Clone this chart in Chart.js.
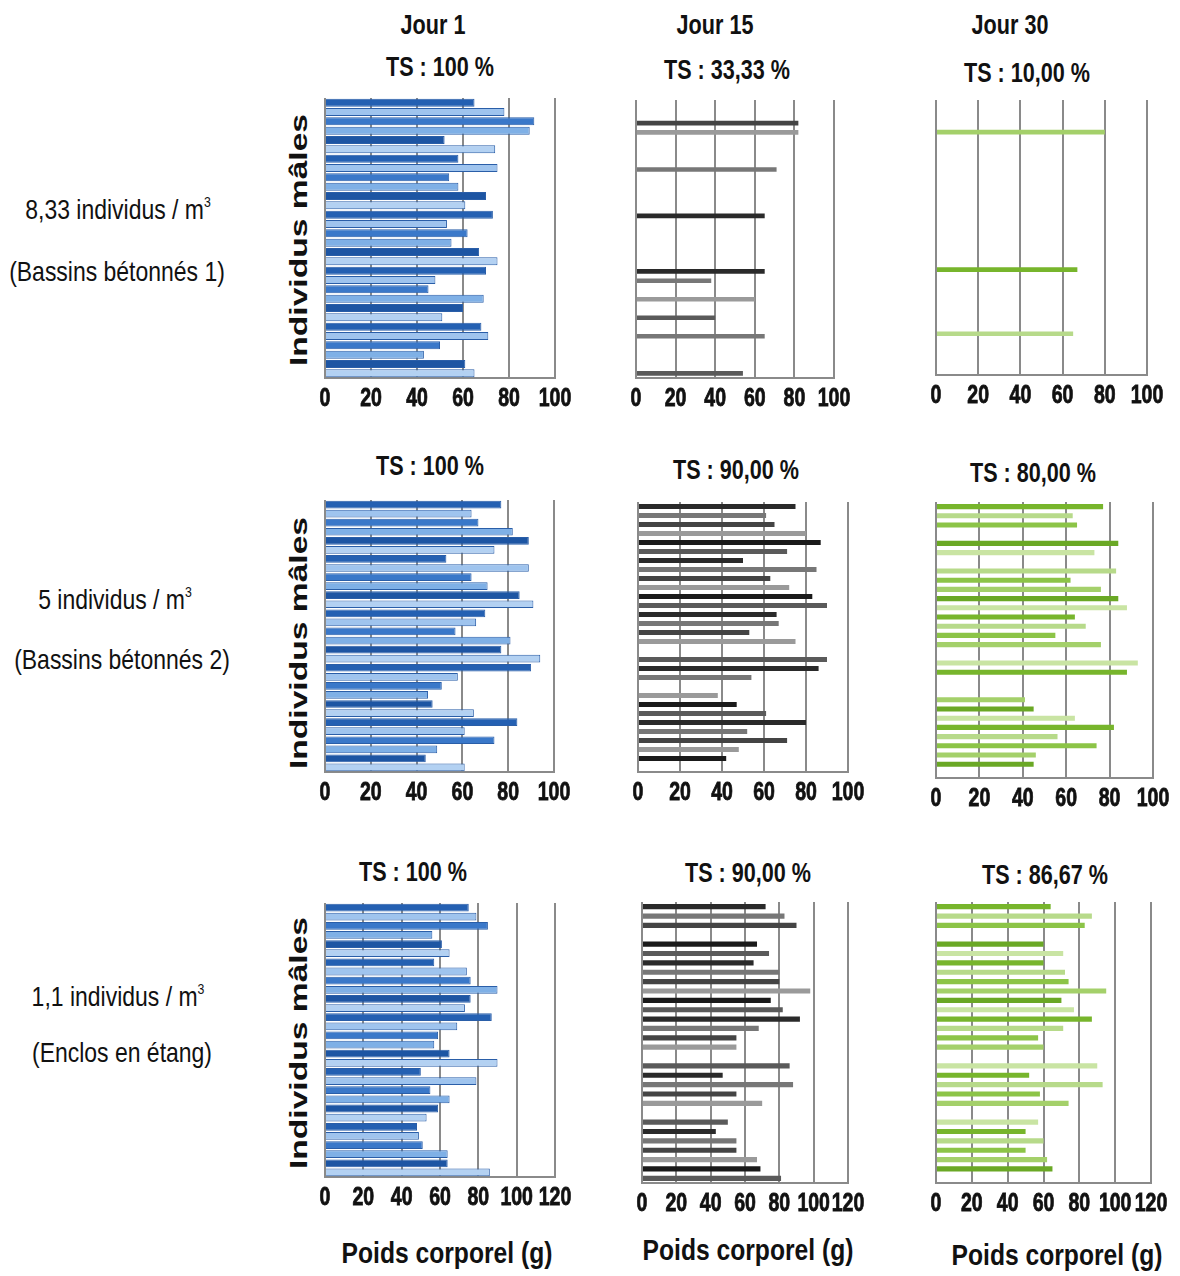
<!DOCTYPE html>
<html>
<head>
<meta charset="utf-8">
<script src="https://cdn.jsdelivr.net/npm/chart.js@4.4.1/dist/chart.umd.min.js"></script>
<style>
body { margin: 0; background: #fff; }
#fig { position: relative; width: 1180px; height: 1276px; overflow: hidden;
       font-family: "Liberation Sans", Arial, sans-serif; color: #111; }
.t { position: absolute; white-space: nowrap; }
.title { font-weight: bold; font-size: 27px; transform: translate(-50%, -50%) scaleX(0.8); }
.row { font-size: 28px; transform: translate(-50%, -50%) scaleX(0.82); }
.row sup { font-size: 15px; vertical-align: 12px; line-height: 0; }
.ylab { font-weight: bold; font-size: 24px;
        transform: translate(-50%, -50%) rotate(-90deg) scaleX(1.4); }
.xlab { font-weight: bold; font-size: 29px; transform: translate(-50%, -50%) scaleX(0.85); }
canvas { position: absolute; }
</style>
</head>
<body>
<div id="fig"></div>
<script>
// individus (30 mâles par traitement)
const individus = ["1","2","3","4","5","6","7","8","9","10","11","12","13","14","15",
                   "16","17","18","19","20","21","22","23","24","25","26","27","28","29","30"];

// Bassins bétonnés 1 (8,33 individus / m3)
const j1_bassin1  = [65,78,91,89,52,74,58,75,54,58,70,61,73,53,62,55,67,75,70,48,45,69,60,51,68,71,50,43,61,65];
const j15_bassin1 = [null,null,82,82,null,null,null,71,null,null,null,null,65,null,null,null,null,null,65,38,null,60,null,40,null,65,null,null,null,54];
const j30_bassin1 = [null,null,null,80,null,null,null,null,null,null,null,null,null,null,null,null,null,null,67,null,null,null,null,null,null,65,null,null,null,null];

// Bassins bétonnés 2 (5 individus / m3)
const j1_bassin2  = [77,64,67,82,89,74,53,89,64,71,85,91,70,66,57,81,77,94,90,58,51,45,47,65,84,61,74,49,44,61];
const j15_bassin2 = [75,61,65,80,87,71,50,85,63,72,83,90,66,67,53,75,null,90,86,54,null,38,47,61,80,52,71,48,42,null];
const j30_bassin2 = [77,63,65,null,84,73,null,83,62,76,84,88,64,69,55,76,null,93,88,null,null,41,45,64,82,56,74,46,45,null];

// Enclos en étang (1,1 individus / m3)
const j1_enclos  = [75,79,85,56,61,65,57,74,76,90,76,73,87,69,59,57,65,90,50,79,55,65,59,53,48,49,51,64,64,86];
const j15_enclos = [72,83,90,null,67,74,65,80,80,98,75,82,92,68,55,55,null,86,47,88,55,70,null,50,43,55,55,67,69,81];
const j30_enclos = [64,87,83,null,60,71,60,72,74,95,70,77,87,71,57,60,null,90,52,93,58,74,null,57,50,60,50,62,65,null];

const jours = ["Jour 1", "Jour 15", "Jour 30"];
const tauxSurvie = [
  ["TS : 100 %", "TS : 33,33 %", "TS : 10,00 %"],
  ["TS : 100 %", "TS : 90,00 %", "TS : 80,00 %"],
  ["TS : 100 %", "TS : 90,00 %", "TS : 86,67 %"]
];
const densites = ["8,33 individus / m<sup>3</sup>", "5 individus / m<sup>3</sup>", "1,1 individus / m<sup>3</sup>"];
const milieux = ["(Bassins bétonnés 1)", "(Bassins bétonnés 2)", "(Enclos en étang)"];
const axeMax = [100, 100, 120];

const fig = document.getElementById("fig");
function addText(cls, html, x, y) {
  const d = document.createElement("div");
  d.className = "t " + cls;
  d.innerHTML = html;
  d.style.left = x + "px";
  d.style.top = y + "px";
  fig.appendChild(d);
}

// textes
addText("title", jours[0], 433, 25);
addText("title", jours[1], 715, 25);
addText("title", jours[2], 1010, 25);
const tsPos = [[[440, 67], [727, 70], [1027, 73]], [[430, 466], [736, 470], [1033, 473]], [[413, 872], [748, 873], [1045, 875]]];
tsPos.forEach((r, i) => r.forEach((p, j) => addText("title", tauxSurvie[i][j], p[0], p[1])));
addText("row", densites[0], 118, 210); addText("row", milieux[0], 117, 272);
addText("row", densites[1], 115, 600); addText("row", milieux[1], 122, 660);
addText("row", densites[2], 118, 997); addText("row", milieux[2], 122, 1053);
addText("ylab", "Individus mâles", 299, 240);
addText("ylab", "Individus mâles", 299, 643);
addText("ylab", "Individus mâles", 299, 1043);
addText("xlab", "Poids corporel (g)", 447, 1253);
addText("xlab", "Poids corporel (g)", 748, 1250);
addText("xlab", "Poids corporel (g)", 1057, 1255);

// couleurs par jour
const bleus = ["#2460b2", "#9fc4ee", "#3a78c9", "#7fb0e6", "#1d55a3", "#b3d1f2"];
const gris = ["#2a2a2a", "#777777", "#444444", "#9a9a9a", "#1a1a1a", "#5a5a5a"];
const verts = ["#77b52c", "#b7da8a", "#8cc447", "#a4d06a", "#6aa825", "#c9e4a3"];

// position des zones de tracé : [x de 0, x du max, haut, bas]
const panneaux = [
  { data: j1_bassin1,  max: axeMax[0], col: bleus, bord: "#2a5ea8", bar: 0.85, zone: [325, 555, 98, 378] },
  { data: j15_bassin1, max: axeMax[0], col: gris,  bord: null, bar: 0.5,  zone: [636, 834, 100, 378] },
  { data: j30_bassin1, max: axeMax[0], col: verts, bord: null, bar: 0.5,  zone: [936, 1147, 100, 375] },
  { data: j1_bassin2,  max: axeMax[1], col: bleus, bord: "#2a5ea8", bar: 0.85, zone: [325, 554, 500, 772] },
  { data: j15_bassin2, max: axeMax[1], col: gris,  bord: null, bar: 0.55, zone: [638, 848, 502, 772] },
  { data: j30_bassin2, max: axeMax[1], col: verts, bord: null, bar: 0.55, zone: [936, 1153, 502, 778] },
  { data: j1_enclos,   max: axeMax[2], col: bleus, bord: "#2a5ea8", bar: 0.85, zone: [325, 555, 903, 1177] },
  { data: j15_enclos,  max: axeMax[2], col: gris,  bord: null, bar: 0.55, zone: [642, 848, 902, 1183] },
  { data: j30_enclos,  max: axeMax[2], col: verts, bord: null, bar: 0.55, zone: [936, 1151, 902, 1183] }
];

const padL = 16, padR = 26, padT = 2, axeH = 36;

// étiquettes de graduation en police étroite (pas de police condensée installée)
const ticksEtroits = {
  id: "ticksEtroits",
  afterDraw(chart) {
    const s = chart.scales.x, ctx = chart.ctx;
    ctx.save();
    ctx.fillStyle = "#111";
    ctx.strokeStyle = "#111";
    ctx.lineWidth = 0.8;
    ctx.font = 'bold 25px "Liberation Sans", Arial, sans-serif';
    ctx.textAlign = "center";
    ctx.textBaseline = "top";
    s.ticks.forEach(t => {
      ctx.save();
      ctx.translate(s.getPixelForValue(t.value), s.top + 9);
      ctx.scale(0.78, 1);
      ctx.fillText(String(t.value), 0, 0);
      ctx.strokeText(String(t.value), 0, 0);
      ctx.restore();
    });
    ctx.restore();
  }
};

panneaux.forEach(p => {
  const [x0, x1, top, bottom] = p.zone;
  const cv = document.createElement("canvas");
  const w = (x1 - x0) + padL + padR;
  const h = (bottom - top) + padT + axeH;
  cv.width = w; cv.height = h;
  cv.style.left = (x0 - padL) + "px";
  cv.style.top = (top - padT) + "px";
  cv.style.width = w + "px"; cv.style.height = h + "px";
  fig.appendChild(cv);

  new Chart(cv.getContext("2d"), {
    type: "bar",
    data: {
      labels: individus,
      datasets: [{
        data: p.data,
        backgroundColor: p.data.map((v, i) => p.col[i % p.col.length]),
        borderColor: p.bord || "rgba(0,0,0,0)",
        borderWidth: p.bord ? 1 : 0,
        barPercentage: p.bar,
        categoryPercentage: 1
      }]
    },
    options: {
      indexAxis: "y",
      responsive: false,
      animation: false,
      devicePixelRatio: 1,
      layout: { padding: { left: padL, right: padR, top: padT, bottom: 0 } },
      plugins: { legend: { display: false }, tooltip: { enabled: false } },
      scales: {
        x: {
          min: 0, max: p.max, z: 1,
          afterFit: s => { s.height = axeH; },
          ticks: { stepSize: 20, display: false },
          grid: { color: "#8a8a8a", lineWidth: 2, drawTicks: false },
          border: { color: "#8a8a8a", width: 2 }
        },
        y: { display: false, grid: { display: false } }
      }
    },
    plugins: [ticksEtroits]
  });
});
</script>
</body>
</html>
